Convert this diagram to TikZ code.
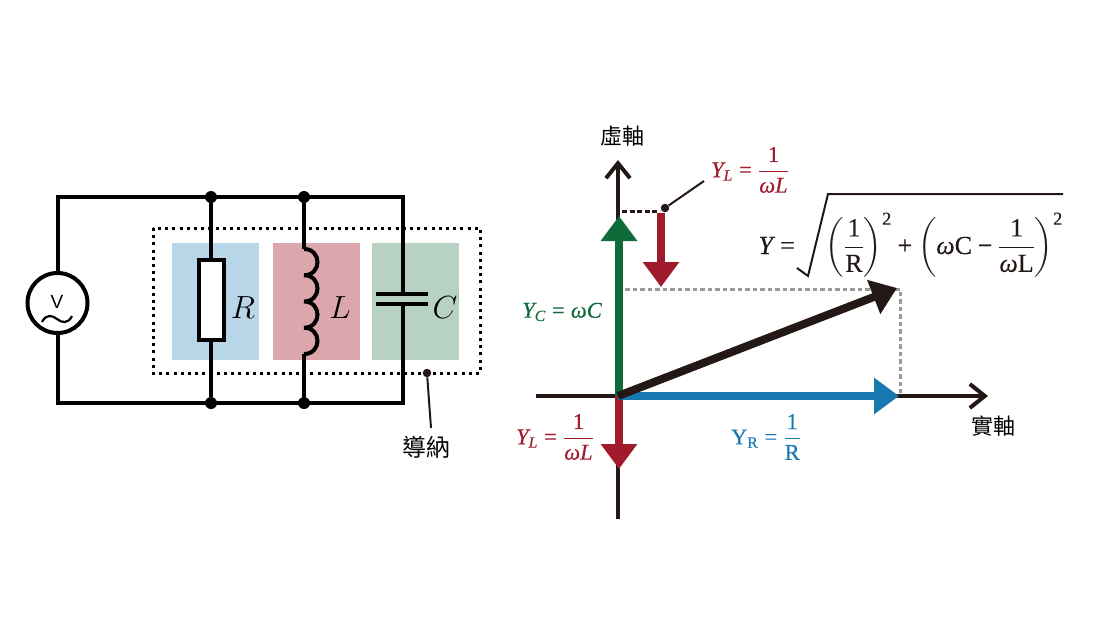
\documentclass[tikz,border=0pt]{standalone}
\usepackage{fix-cm}
\usepackage{amsmath}
\usepackage{fontspec}
\newfontfamily\cjkfont{Noto Sans CJK TC}
\newfontfamily\sansfont{Liberation Sans}
\newfontfamily\camfont[RawFeature={embolden=0.3}]{Liberation Serif}
\usetikzlibrary{arrows.meta}
\definecolor{cblue}{HTML}{1878B0}
\definecolor{cred}{HTML}{A01C2C}
\definecolor{cgreen}{HTML}{0F6B38}
\definecolor{ink}{HTML}{231815}
\definecolor{pblue}{HTML}{B8D6E8}
\definecolor{pred}{HTML}{DCA6AD}
\definecolor{pgreen}{HTML}{B7D2C2}
\newcommand{\fsz}[1]{\fontsize{#1}{#1}\selectfont}
\newcommand{\mi}[1]{\text{\camfont\itshape #1}}
\newcommand{\mr}[1]{\text{\camfont #1}}
\newcommand{\fr}[2]{\genfrac{}{}{1.3pt}{0}{#1}{#2}}
\newcommand{\eqs}{\mathrel{\mr{=}}}
\newcommand{\pls}{\mathbin{\mr{+}}}
\newcommand{\mns}{\mathbin{\mr{−}}}
\tikzset{
  wire/.style={line width=4pt,draw=black,line cap=butt},
  junction/.style={circle,fill=black,inner sep=0pt,minimum size=12pt},
  tinydot/.style={circle,fill=ink,inner sep=0pt,minimum size=8.5pt},
  axisline/.style={line width=4pt,draw=ink,-{Straight Barb[length=15pt,width=24pt,line width=4pt]}},
  vec/.style={line width=8pt,-{Triangle[length=25pt,width=35pt]}},
  cjk/.style={inner sep=0pt,font=\cjkfont\fsz{22}},
  elem/.style={inner sep=0pt,font=\fsz{32}},
  eqn/.style={inner sep=0pt,font=\fsz{22.5}},
}
\begin{document}
\begin{tikzpicture}[x=1pt,y=-1pt]
\useasboundingbox (0,0) rectangle (1100,619);
% panels
\fill[pblue] (172,242.5) rectangle (259,359.5);
\fill[pred] (272.5,242.5) rectangle (359.5,359.5);
\fill[pgreen] (372,242.5) rectangle (459,359.5);
% named points
\coordinate (tl) at (58,197);
\coordinate (tr) at (402.5,197);
\coordinate (bl) at (58,403);
\coordinate (br) at (402.5,403);
\node[junction] (j1) at (211,197) {};
\node[junction] (j2) at (304,197) {};
\node[junction] (j3) at (211,403) {};
\node[junction] (j4) at (304,403) {};
\node[draw=black,line width=4pt,circle,fill=white,minimum size=60pt,inner sep=0pt] (src) at (57.5,303) {};
\node[inner sep=0pt,font=\sansfont\fsz{19}] (vlab) at (57,301.5) {V};
\draw[line width=2.2pt,black] (42,322) .. controls (46,314) and (52,315) .. (57,319) .. controls (62,323) and (68,324) .. (72,316);
% wires
\draw[wire,line join=miter] (src.north -| tl) -- (tl) -- (tr) -- (br) -- (bl) -- (src.south -| bl);
\draw[wire] (j1) -- (j3);
\node[draw=black,line width=4pt,fill=white,minimum width=25pt,minimum height=80pt,inner sep=0pt] (res) at (211.5,300) {};
\coordinate (lt) at (304,249);
\coordinate (lb) at (304,354);
\draw[wire] (j2) -- (lt);
\draw[wire] (lb) -- (j4);
\draw[wire] (lt) .. controls (322,249) and (322,275.25) .. (304,275.25)
  .. controls (322,275.25) and (322,301.5) .. (304,301.5)
  .. controls (322,301.5) and (322,327.75) .. (304,327.75)
  .. controls (322,327.75) and (322,354) .. (lb);
% capacitor
\fill[pgreen] (395,296) rectangle (410,302);
\draw[wire] (376,294) -- (427.5,294);
\draw[wire] (376,304) -- (427.5,304);
% labels
\node[elem] (R) at (243,308) {$R$};
\node[elem] (L) at (340,308) {$L$};
\node[elem] (C) at (445,308) {$C$};
% admittance box
\draw[line width=3pt,black,dash pattern=on 3pt off 4.2pt] (153,228) rectangle (480,373);
\node[tinydot] (d1) at (427,373) {};
\node[cjk,font=\cjkfont\fsz{24}] (dn) at (426,447) {導納};
\coordinate (dnt) at (431,428);
\draw[line width=2pt,ink] (d1) -- (dnt);
% axes
\coordinate (ax0) at (536,396);
\coordinate (ax1) at (988,396);
\coordinate (ay0) at (618,519);
\coordinate (ay1) at (618,160);
\coordinate (O) at (618,396);
\draw[axisline] (ax0) -- (ax1);
\draw[axisline] (ay0) -- (ay1);
\node[cjk] (xl) at (993,426) {實軸};
\node[cjk] (yl) at (622,136) {虛軸};
% guides
\coordinate (g1) at (625,289);
\coordinate (g2) at (900,289);
\coordinate (g3) at (900,393);
\draw[line width=3pt,draw=black!40,dash pattern=on 4.5pt off 3pt] (g1) -- (g2) -- (g3);
% vectors
\coordinate (tg) at (619,216);
\coordinate (tb) at (899,396);
\coordinate (tr1) at (619,469);
\coordinate (tk) at (897,288);
\coordinate (r2a) at (661,213);
\coordinate (r2b) at (661,287);
\draw[vec,cgreen] (619,396) -- (tg);
\draw[vec,cred] (619,396) -- (tr1);
\draw[vec,cblue] (O) -- (tb);
\draw[vec,ink] (O) -- (tk);
\draw[vec,cred] (r2a) -- (r2b);
% upper YL leader
\node[tinydot] (d2) at (665,208) {};
\coordinate (q1) at (622,211);
\coordinate (q2) at (660,211);
\draw[line width=3pt,ink,dash pattern=on 5pt off 2.6pt] (q1) -- (q2);
\coordinate (q3) at (704,181);
\draw[line width=2pt,ink] (d2) -- (q3);
% equations
\node[eqn,text=cred] (yl1) at (750,170) {$\mi{Y}_{\mi{L}}\eqs\fr{\mr{1}}{\mi{ω}\mi{L}}$};
\node[eqn,text=cred] (yl2) at (555,437) {$\mi{Y}_{\mi{L}}\eqs\fr{\mr{1}}{\mi{ω}\mi{L}}$};
\node[eqn,text=cgreen] (yc) at (562,312) {$\mi{Y}_{\mi{C}}\eqs\mi{ω}\mi{C}$};
\node[eqn,text=cblue] (yr) at (766,437) {$\mr{Y}_{\mr{R}}\eqs\fr{\mr{1}}{\mr{R}}$};
\node[inner sep=0pt,font=\fsz{26},text=ink,anchor=base east] (ylhs) at (795,254) {$\mi{Y}\eqs$};
\node[inner sep=0pt,font=\fsz{26},text=ink,anchor=base east] (ym) at (1063,254) {$\left(\fr{\mr{1}}{\mr{R}}\right)^{\mr{2}}\pls\left(\mi{ω}\mr{C}\mns\fr{\mr{1}}{\mi{ω}\mr{L}}\right)^{\mr{2}}$};
\coordinate (s1) at (797,268);
\coordinate (s3) at (808,276);
\coordinate (s4) at (828,194);
\coordinate (s5) at (1063,194);
\draw[line width=2pt,ink,line join=miter] (s1) -- (s3) -- (s4) -- (s5);
\end{tikzpicture}
\end{document}
